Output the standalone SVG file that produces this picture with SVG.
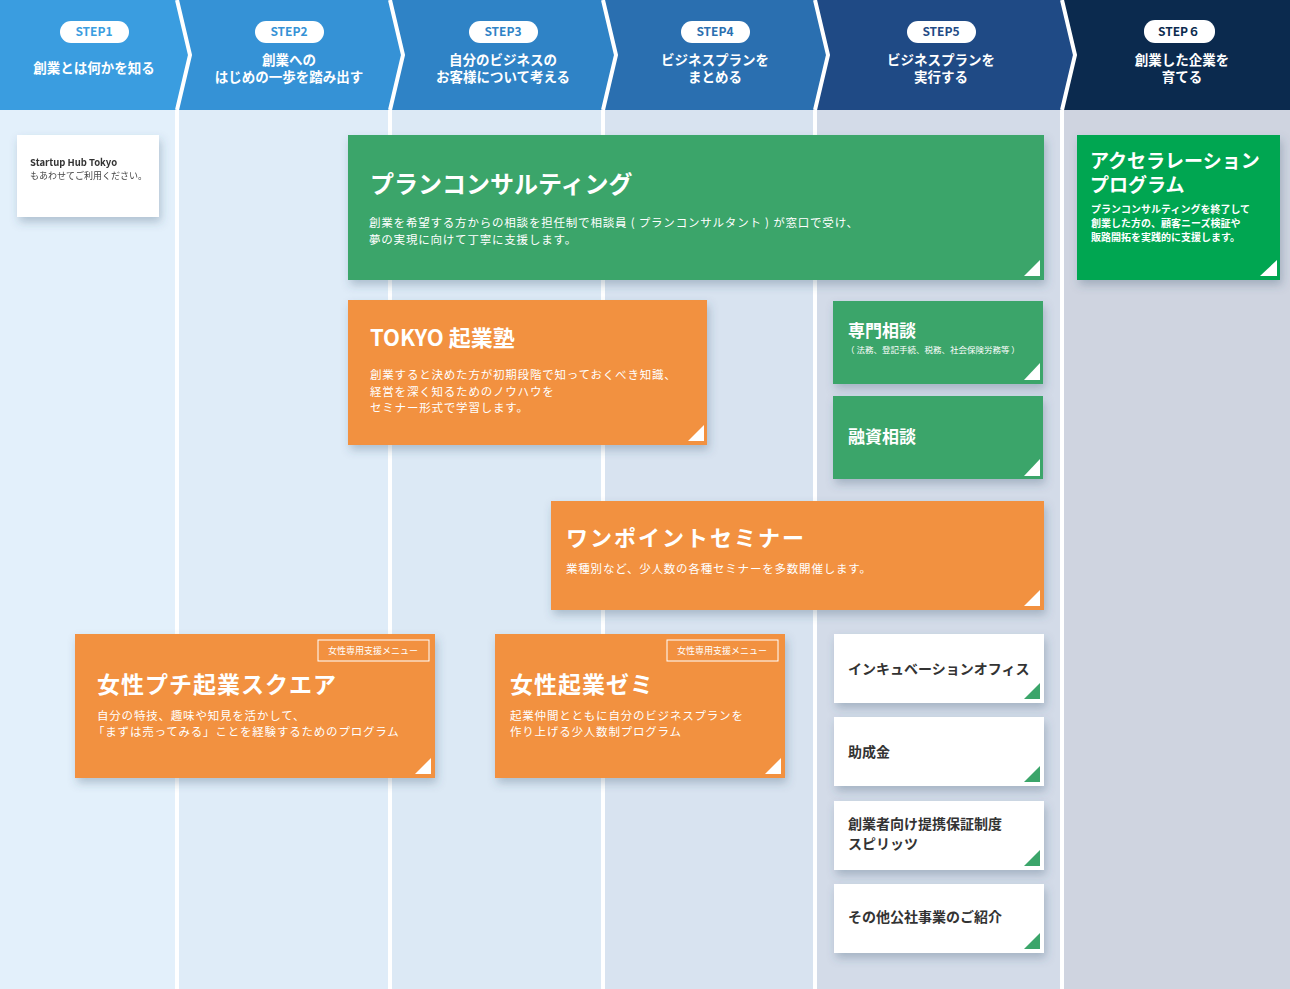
<svg xmlns="http://www.w3.org/2000/svg" width="1290" height="989" viewBox="0 0 1290 989">
<defs>
<filter id="sh" x="-10%" y="-10%" width="130%" height="140%"><feDropShadow dx="2" dy="5" stdDeviation="5" flood-color="#3a5470" flood-opacity="0.3"/></filter>
<style>
text{font-family:"Noto Sans CJK JP","Noto Sans",sans-serif;}
.w{fill:#fff}
.hd{fill:#fff;font-size:13.5px;font-weight:bold;text-anchor:middle}
.pill{fill:#fff}
.st{font-size:12px;font-weight:bold;text-anchor:middle}
.tt{fill:#fff;font-weight:bold}
.ds{fill:#fff;font-size:11.5px;letter-spacing:0.8px}
.wt{fill:#333;font-size:14px;font-weight:bold}
</style>
</defs>
<g id="background">
<rect x="0" y="110" width="177" height="879" fill="#e3f0fb"/>
<rect x="177" y="110" width="213" height="879" fill="#dfecf8"/>
<rect x="390" y="110" width="213" height="879" fill="#dce9f5"/>
<rect x="603" y="110" width="212" height="879" fill="#d8e3f0"/>
<rect x="815" y="110" width="247" height="879" fill="#d3dbe8"/>
<rect x="1062" y="110" width="228" height="879" fill="#cfd4e0"/>
<g stroke="#fff" stroke-width="4"><line x1="177" y1="110" x2="177" y2="989"/><line x1="390" y1="110" x2="390" y2="989"/><line x1="603" y1="110" x2="603" y2="989"/><line x1="815" y1="110" x2="815" y2="989"/><line x1="1062" y1="110" x2="1062" y2="989"/></g>
</g>
<g id="header">
<polygon points="0,0 177,0 190,55 177,110 0,110" fill="#3a9de0"/>
<polygon points="177,0 390,0 403,55 390,110 177,110 190,55" fill="#3592d6"/>
<polygon points="390,0 603,0 616,55 603,110 390,110 403,55" fill="#2f83c6"/>
<polygon points="603,0 815,0 828,55 815,110 603,110 616,55" fill="#2a6fb0"/>
<polygon points="815,0 1062,0 1075,55 1062,110 815,110 828,55" fill="#1f4a85"/>
<polygon points="1062,0 1290,0 1290,110 1062,110 1075,55" fill="#0b2a4e"/>
<g fill="none" stroke="#fff" stroke-width="4"><polyline points="177,0 190,55 177,110"/><polyline points="390,0 403,55 390,110"/><polyline points="603,0 616,55 603,110"/><polyline points="815,0 828,55 815,110"/><polyline points="1062,0 1075,55 1062,110"/></g>
<rect class="pill" x="60" y="21" width="69" height="22" rx="11"/><text class="st" x="94" y="36" fill="#3a9de0">STEP1</text>
<rect class="pill" x="255" y="21" width="69" height="22" rx="11"/><text class="st" x="289" y="36" fill="#3592d6">STEP2</text>
<rect class="pill" x="469" y="21" width="69" height="22" rx="11"/><text class="st" x="503" y="36" fill="#2f83c6">STEP3</text>
<rect class="pill" x="681" y="21" width="69" height="22" rx="11"/><text class="st" x="715" y="36" fill="#2a6fb0">STEP4</text>
<rect class="pill" x="907" y="21" width="69" height="22" rx="11"/><text class="st" x="941" y="36" fill="#1f4a85">STEP5</text>
<rect class="pill" x="1144" y="20" width="71" height="23" rx="11"/><text class="st" x="1179" y="36" fill="#0b2a4e" font-weight="normal">STEP６</text>
<text class="hd" x="94" y="73">創業とは何かを知る</text>
<text class="hd" x="289" y="65">創業への</text><text class="hd" x="289" y="82">はじめの一歩を踏み出す</text>
<text class="hd" x="503" y="65">自分のビジネスの</text><text class="hd" x="503" y="82">お客様について考える</text>
<text class="hd" x="715" y="65">ビジネスプランを</text><text class="hd" x="715" y="82">まとめる</text>
<text class="hd" x="941" y="65">ビジネスプランを</text><text class="hd" x="941" y="82">実行する</text>
<text class="hd" x="1182" y="65" font-weight="normal">創業した企業を</text><text class="hd" x="1182" y="82" font-weight="normal">育てる</text>
</g>
<g id="startup-hub" filter="url(#sh)"><rect x="17" y="135" width="142" height="82" fill="#fff"/>
<text x="30" y="166" font-size="9.5" font-weight="bold" fill="#333">Startup Hub Tokyo</text><text x="30" y="179" font-size="9" fill="#444">もあわせてご利用ください。</text></g>
<g id="plan-consulting"><rect x="348" y="135" width="696" height="145" fill="#3ba56a" filter="url(#sh)"/><polygon class="w" points="1040,260 1040,276 1024,276"/>
<text class="tt" x="370" y="193" font-size="24">プランコンサルティング</text>
<text class="ds" x="369" y="227">創業を希望する方からの相談を担任制で相談員 ( プランコンサルタント ) が窓口で受け、</text>
<text class="ds" x="369" y="244">夢の実現に向けて丁寧に支援します。</text></g>
<g id="accelerator"><rect x="1077" y="135" width="203" height="145" fill="#00a651" filter="url(#sh)"/><polygon class="w" points="1277,260 1277,276 1260,276"/>
<text class="tt" x="1090" y="168" font-size="19">アクセラレーション</text><text class="tt" x="1090" y="192" font-size="19">プログラム</text>
<g fill="#fff" font-size="10" font-weight="bold"><text x="1091" y="213">プランコンサルティングを終了して</text><text x="1091" y="227">創業した方の、顧客ニーズ検証や</text><text x="1091" y="241">販路開拓を実践的に支援します。</text></g></g>
<g id="tokyo-kigyojuku"><rect x="348" y="300" width="359" height="145" fill="#f29140" filter="url(#sh)"/><polygon class="w" points="704,425 704,441 688,441"/>
<text class="tt" x="370" y="346" font-size="22">TOKYO 起業塾</text>
<text class="ds" x="370" y="379">創業すると決めた方が初期段階で知っておくべき知識、</text><text class="ds" x="370" y="396">経営を深く知るためのノウハウを</text><text class="ds" x="370" y="412">セミナー形式で学習します。</text></g>
<g id="senmon"><rect x="833" y="301" width="210" height="83" fill="#3ba56a" filter="url(#sh)"/><polygon class="w" points="1040,363 1040,380 1024,380"/>
<text class="tt" x="848" y="337" font-size="17">専門相談</text><text x="846" y="353" font-size="8.5" fill="#fff">（ 法務、登記手続、税務、社会保険労務等 ）</text></g>
<g id="yushi"><rect x="833" y="396" width="210" height="83" fill="#3ba56a" filter="url(#sh)"/><polygon class="w" points="1040,459 1040,476 1024,476"/>
<text class="tt" x="848" y="443" font-size="17">融資相談</text></g>
<g id="onepoint"><rect x="551" y="501" width="493" height="109" fill="#f29140" filter="url(#sh)"/><polygon class="w" points="1040,590 1040,606 1024,606"/>
<text class="tt" x="566" y="546" font-size="22" letter-spacing="2">ワンポイントセミナー</text>
<text class="ds" x="566" y="573">業種別など、少人数の各種セミナーを多数開催します。</text></g>
<g id="josei-petit"><rect x="75" y="634" width="360" height="144" fill="#f29140" filter="url(#sh)"/><polygon class="w" points="431,758 431,774 415,774"/>
<rect x="318" y="640" width="111" height="21" fill="none" stroke="#fff"/><text x="373" y="654" font-size="9" fill="#fff" text-anchor="middle">女性専用支援メニュー</text>
<text class="tt" x="97" y="693" font-size="23" letter-spacing="1">女性プチ起業スクエア</text>
<text class="ds" x="97" y="720">自分の特技、趣味や知見を活かして、</text><text class="ds" x="93" y="736">「まずは売ってみる」ことを経験するためのプログラム</text></g>
<g id="josei-zemi"><rect x="495" y="634" width="290" height="144" fill="#f29140" filter="url(#sh)"/><polygon class="w" points="781,758 781,774 765,774"/>
<rect x="667" y="640" width="111" height="21" fill="none" stroke="#fff"/><text x="722" y="654" font-size="9" fill="#fff" text-anchor="middle">女性専用支援メニュー</text>
<text class="tt" x="510" y="693" font-size="23" letter-spacing="1">女性起業ゼミ</text>
<text class="ds" x="510" y="720">起業仲間とともに自分のビジネスプランを</text><text class="ds" x="510" y="736">作り上げる少人数制プログラム</text></g>
<g id="incubation"><rect x="834" y="634" width="210" height="69" fill="#fff" filter="url(#sh)"/><polygon points="1040,683 1040,699 1024,699" fill="#3ba56a"/><text class="wt" x="848" y="674">インキュベーションオフィス</text></g>
<g id="josei-kin"><rect x="834" y="717" width="210" height="69" fill="#fff" filter="url(#sh)"/><polygon points="1040,766 1040,782 1024,782" fill="#3ba56a"/><text class="wt" x="848" y="757">助成金</text></g>
<g id="hosho"><rect x="834" y="801" width="210" height="69" fill="#fff" filter="url(#sh)"/><polygon points="1040,850 1040,866 1024,866" fill="#3ba56a"/><text class="wt" x="848" y="829">創業者向け提携保証制度</text><text class="wt" x="848" y="849">スピリッツ</text></g>
<g id="sonota"><rect x="834" y="884" width="210" height="69" fill="#fff" filter="url(#sh)"/><polygon points="1040,933 1040,949 1024,949" fill="#3ba56a"/><text class="wt" x="848" y="922">その他公社事業のご紹介</text></g>
<g id="connectors"/>
</svg>
